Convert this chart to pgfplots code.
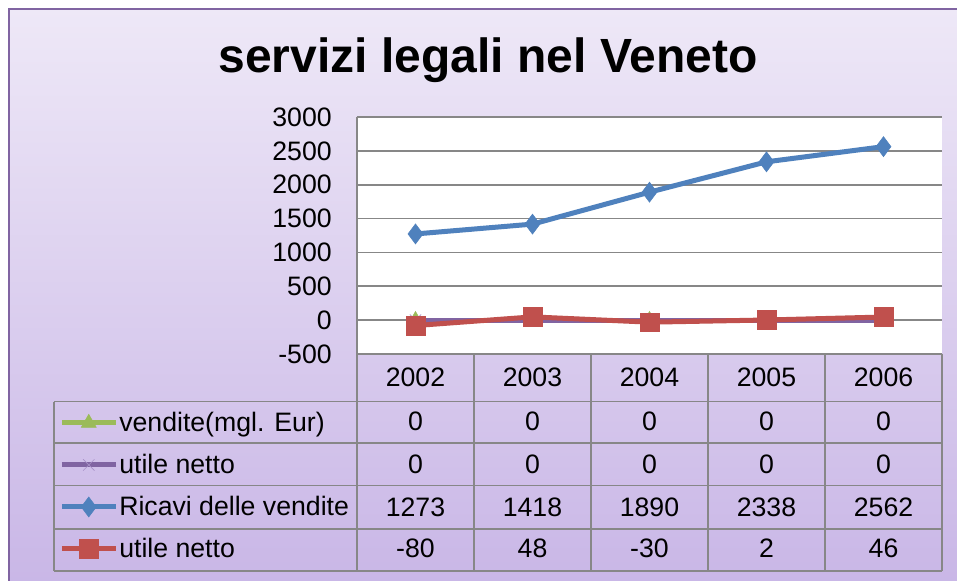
\documentclass[border=0pt]{standalone}
\usepackage{pgfplots}
\pgfplotsset{compat=1.18}
\usepackage{fontspec}
\setmainfont{Liberation Sans}
\definecolor{cblue}{HTML}{4F81BD}
\definecolor{cred}{HTML}{C0504D}
\definecolor{cgreen}{HTML}{9BBB59}
\definecolor{cpurple}{HTML}{8064A2}
\definecolor{cpurplel}{HTML}{A892C8}
\definecolor{bgtop}{HTML}{EEE8F7}
\definecolor{bgbot}{HTML}{C8B5E6}
\definecolor{gridc}{HTML}{878787}
\newcommand{\tf}{\fontsize{20}{24}\selectfont}
\tikzset{px/.style={x=0.75pt,y=-0.75pt,yshift=435.75pt}}
\begin{document}
\begin{tikzpicture}
\begin{scope}[px]
\useasboundingbox (0,0) rectangle (957,581);
\begin{scope}
\clip (0,0) rectangle (957,581);
\shade[top color=bgtop, bottom color=bgbot] (9,9) rectangle (975,600);
\draw[cpurple, line width=2pt] (9,9) rectangle (975,600);
\end{scope}
\node[anchor=base, font=\bfseries\fontsize{36}{40}\selectfont] at (488,73) {servizi legali nel Veneto};
\end{scope}
\begin{axis}[
  at={(267.75pt,170.25pt)}, anchor=south west,
  scale only axis, width=438.75pt, height=177.75pt,
  xmin=-0.5, xmax=4.5, ymin=-500, ymax=3000,
  ytick={-500,0,500,1000,1500,2000,2500,3000},
  yticklabels={-500,0,500,1000,1500,2000,2500,3000},
  xtick=\empty,
  major tick length=0pt,
  ymajorgrids, grid style={gridc, line width=1.2pt},
  axis line style={draw=none},
  axis background/.style={fill=white},
  yticklabel style={font=\tf, inner sep=0pt, xshift=-18.75pt},
  clip=false,
  legend entries={vendite(mgl. Eur), utile netto, Ricavi delle vendite, utile netto},
  legend cell align=left,
  legend style={at={(-0.5094,-0.2013)}, anchor=north west, draw=none, fill=none,
    inner sep=0pt, row sep=0pt, column sep=0.75pt, font=\tf,
    nodes={inner sep=0pt, text height=22pt, text depth=9.5pt}},
  legend image code/.code={\draw[mark repeat=2, mark phase=2, #1] plot coordinates {(0pt,0pt) (20.25pt,0pt) (40.5pt,0pt)};},
]
\addplot[cgreen, line width=3.75pt, mark=triangle*, mark size=6.5pt, mark options={line width=0.4pt}] coordinates {(0,0)(1,0)(2,0)(3,0)(4,0)};
\addplot[cpurple, line width=3.75pt, mark=x, mark size=6pt, mark options={line width=0.5pt, draw=cpurplel}] coordinates {(0,0)(1,0)(2,0)(3,0)(4,0)};
\addplot[cblue, line width=3.75pt, mark=diamond*, mark size=7.5pt, mark options={line width=0.4pt}] coordinates {(0,1273)(1,1418)(2,1890)(3,2338)(4,2562)};
\addplot[cred, line width=3.75pt, mark=square*, mark size=7pt, mark options={line width=0.4pt}] coordinates {(0,-80)(1,48)(2,-30)(3,2)(4,46)};
\end{axis}
\begin{scope}[px]
\begin{scope}[gridc, line width=1.2pt]
\draw (357,117) -- (357,571);
\foreach \x in {474,591,708,825,942} \draw (\x,354) -- (\x,571);
\foreach \y in {401.7,443.3,485.7,529.3,571} \draw (54,\y) -- (942,\y);
\draw (54,401.7) -- (54,571);
\end{scope}
\begin{scope}[every node/.style={anchor=base, font=\tf, inner sep=0pt}]
\foreach \t [count=\i from 0] in {2002,2003,2004,2005,2006}
  \node at (415.5+117*\i,387) {\t};
\foreach \t [count=\i from 0] in {0,0,0,0,0}
  \node at (415.5+117*\i,431) {\t};
\foreach \t [count=\i from 0] in {0,0,0,0,0}
  \node at (415.5+117*\i,474) {\t};
\foreach \t [count=\i from 0] in {1273,1418,1890,2338,2562}
  \node at (415.5+117*\i,517) {\t};
\foreach \t [count=\i from 0] in {-80,48,-30,2,46}
  \node at (415.5+117*\i,558) {\t};
\end{scope}
\end{scope}
\end{tikzpicture}
\end{document}
